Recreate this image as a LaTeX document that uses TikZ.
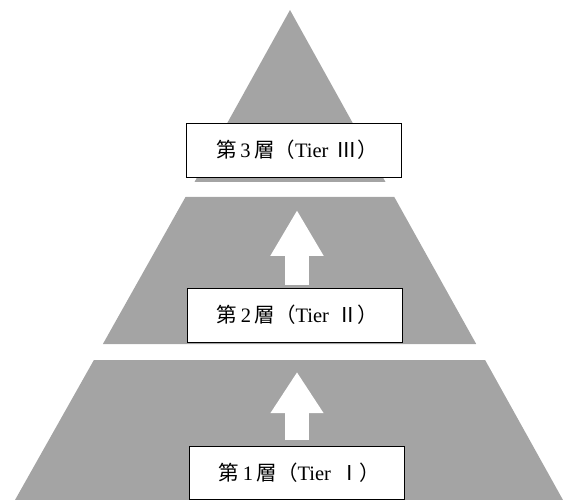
\documentclass[tikz,border=0pt]{standalone}
\usepackage{fontspec}
\setmainfont{Liberation Serif}
\newfontfamily\jp{Noto Sans CJK JP}
\usetikzlibrary{arrows.meta}
\definecolor{tiergray}{RGB}{164,164,164}
\tikzset{
  tier/.style={fill=tiergray, draw=none},
  tierbox/.style={draw=black, line width=0.9pt, fill=white, minimum width=215pt, minimum height=54pt, inner sep=0pt, font=\fontsize{20.5}{24}\selectfont},
  fatarrow/.style={draw=white, line width=24pt, -{Triangle[width=50pt,length=#1]}},
}
\begin{document}
\begin{tikzpicture}[x=1pt,y=-1pt]
\useasboundingbox (0,0) rectangle (563,500);
\clip (0,0) rectangle (563,500);
% tiers
\fill[tier] (290,10) -- (385.5,182) -- (194.5,182) -- cycle;
\fill[tier] (185.5,197) -- (394.3,197) -- (476.2,344) -- (102.9,344) -- cycle;
\fill[tier] (93.9,360) -- (485.1,360) -- (563,500) -- (15,500) -- cycle;
% boxes
\node[tierbox] (t3) at (294,150) {\hspace{6pt}{\jp 第}\,3\,{\jp 層（}Tier\hspace{8pt}{\jp Ⅲ）}};
\node[tierbox] (t2) at (294.5,315) {\hspace{6pt}{\jp 第}\,2\,{\jp 層（}Tier\hspace{8pt}{\jp Ⅱ）}};
\node[tierbox, minimum height=53pt] (t1) at (296.5,472.5) {\hspace{6pt}{\jp 第}\,1\,{\jp 層（}Tier\hspace{8pt}{\jp Ⅰ）}};
% arrows
\coordinate (a2s) at (297,285);
\coordinate (a2e) at (297,210);
\coordinate (a1s) at (297,440);
\coordinate (a1e) at (297,372);
\draw[fatarrow=46pt] (a2s) -- (a2e);
\draw[fatarrow=41pt] (a1s) -- (a1e);
\end{tikzpicture}
\end{document}
